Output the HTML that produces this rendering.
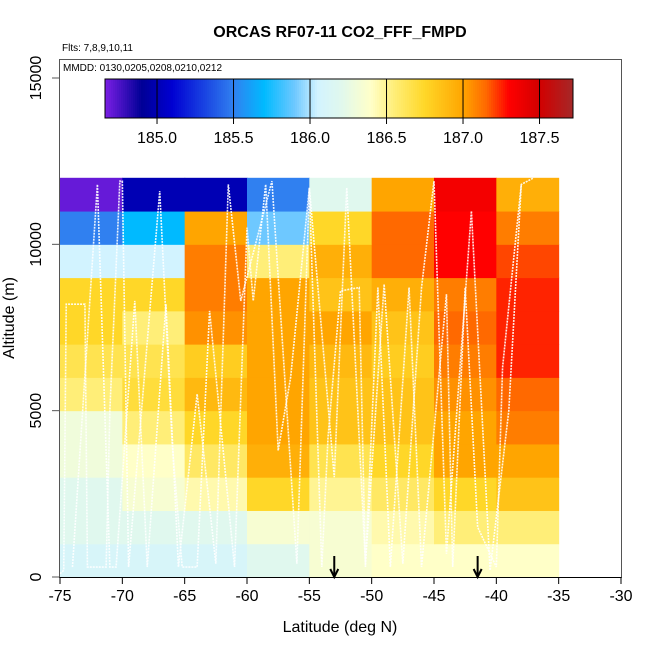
<!DOCTYPE html>
<html><head><meta charset="utf-8"><style>
html,body{margin:0;padding:0;background:#fff}
svg{display:block;font-family:"Liberation Sans",sans-serif}
</style></head><body>
<svg id="c" width="650" height="650" viewBox="0 0 650 650">
<text x="340" y="37" font-size="16" font-weight="bold" text-anchor="middle">ORCAS RF07-11 CO2_FFF_FMPD</text>
<text x="62" y="51" font-size="10">Flts: 7,8,9,10,11</text>
<g id="cells"></g>
<g id="tracks"></g>
<rect x="59.5" y="59.5" width="562" height="518" fill="none" stroke="#555"/>
<text x="63" y="71" font-size="10">MMDD: 0130,0205,0208,0210,0212</text>
<g id="cbar"></g>
<g id="axes"></g>
<text x="340" y="632" font-size="16" text-anchor="middle">Latitude (deg N)</text>
<text transform="translate(14,318) rotate(-90)" font-size="16" text-anchor="middle">Altitude (m)</text>
</svg>
<script>
const latEdges=[-75,-70,-65,-60,-55,-50,-45,-40,-35];
const altEdges=[0,1000,2000,3000,4000,5000,6000,7000,8000,9000,10000,11000,12000];
// rows bottom (0-1000) to top (11000-12000)
const values=[
[186.1,186.1,186.1,186.2,186.35,186.4,186.4,186.4],
[186.2,186.2,186.2,186.35,186.35,186.45,186.55,186.55],
[186.2,186.35,186.45,186.75,186.5,186.6,186.75,186.85],
[186.3,186.4,186.6,186.95,186.65,186.75,187.0,187.0],
[186.3,186.55,186.75,187.0,186.85,186.85,187.0,187.1],
[186.55,186.7,186.9,187.0,186.85,186.85,187.05,187.15],
[186.65,186.65,186.8,187.0,186.9,186.8,187.1,187.25],
[186.75,186.55,187.05,187.0,187.0,186.85,187.15,187.25],
[186.75,186.75,187.1,187.0,186.85,186.95,187.1,187.25],
[186.05,186.05,187.1,186.55,186.95,187.15,187.3,187.2],
[185.5,185.7,187.0,185.9,186.75,187.15,187.3,187.1],
[184.7,185.0,185.0,185.5,186.2,187.0,187.35,186.95]];
const xTicks=[-75,-70,-65,-60,-55,-50,-45,-40,-35,-30];
const yTicks=[0,5000,10000,15000];
const cbTicks=[185.0,185.5,186.0,186.5,187.0,187.5];
const arrowLats=[-53,-41.5];
const trackLat=[-75,-74.7,-74.5,-73,-72.8,-71.3,-71,-70.2,-70,-69.5,-67,-66,-65.2,-64,-63,-61,-60,-59.5,-58.5,-57.5,-56.5,-55,-54,-53.5,-52.5,-51,-50.5,-49.5,-48.5,-47,-46,-44,-43.5,-42.5,-41.5,-40,-39.5,-38,-37];
const trackAlt=[100,200,8200,8200,300,300,5000,11900,11900,300,11600,4000,300,300,8000,300,10500,8300,11800,3800,6000,11700,300,4200,8600,8700,300,8700,300,8700,300,8500,300,8700,1500,300,6300,11800,12000];
const track2Lat=[-74,-72,-71,-70.5,-69,-68,-66.5,-65.5,-64,-62.5,-61.5,-60.5,-58,-56,-55,-53,-52,-50.5,-49,-47.5,-46,-45,-44,-42,-40.5,-39,-38];
const track2Alt=[300,11800,300,300,8300,300,8200,300,5500,400,11800,8300,11900,400,11700,3000,11700,400,8800,400,8700,11900,700,11000,200,5000,11800];
const stops=[[184.65,[128,32,232]],[184.9,[0,0,150]],[185.1,[0,0,210]],[185.5,[48,128,240]],[185.7,[0,186,255]],[185.9,[110,200,255]],[186.05,[210,243,255]],[186.2,[224,248,238]],[186.4,[255,255,200]],[186.55,[255,238,120]],[186.75,[255,215,40]],[187.0,[255,165,0]],[187.15,[255,105,0]],[187.3,[255,0,0]],[187.5,[210,0,0]],[187.72,[165,40,40]]];
function col(v){if(v<=stops[0][0])return 'rgb('+stops[0][1]+')';for(let i=1;i<stops.length;i++){if(v<=stops[i][0]){const a=stops[i-1],b=stops[i],t=(v-a[0])/(b[0]-a[0]);return 'rgb('+a[1].map((c,k)=>Math.round(c+(b[1][k]-c)*t)).join(',')+')';}}return 'rgb('+stops[stops.length-1][1]+')';}
const X=l=>60+(l+75)*561/45, Y=a=>577-a*499/15000, CB=v=>105+(v-184.66)*153;
const NS='http://www.w3.org/2000/svg';
function mk(t,p,at){const e=document.createElementNS(NS,t);for(const k in at)e.setAttribute(k,at[k]);p.appendChild(e);return e;}
const cells=document.getElementById('cells');
values.forEach((row,r)=>row.forEach((v,c)=>{const e=mk('rect',cells,{x:X(latEdges[c]),y:Y(altEdges[r+1]),width:X(latEdges[c+1])-X(latEdges[c])+0.5,height:Y(altEdges[r])-Y(altEdges[r+1])+0.5,fill:col(v)});

}));
const tr=document.getElementById('tracks');
[[trackLat,trackAlt],[track2Lat,track2Alt]].forEach(([la,al])=>{
const pl=mk('polyline',tr,{points:la.map((l,i)=>X(l)+','+Y(al[i])).join(' '),fill:'none',stroke:'#fff','stroke-width':1.6,'stroke-dasharray':'2 1','stroke-opacity':0.9});

});
const cb=document.getElementById('cbar');
for(let x=105;x<573;x+=2){mk('rect',cb,{x:x,y:79,width:2.3,height:39,fill:col(184.66+(x+1-105)/153)});}
mk('rect',cb,{x:105,y:79,width:468,height:39,fill:'none',stroke:'#000'});
cbTicks.forEach(v=>{mk('line',cb,{x1:CB(v),x2:CB(v),y1:79,y2:124,stroke:'#000'});const t=mk('text',cb,{x:CB(v),y:143,'font-size':16,'text-anchor':'middle'});t.textContent=v.toFixed(1);

});
const ax=document.getElementById('axes');
mk('line',ax,{x1:60,x2:621,y1:577.5,y2:577.5,stroke:'#000'});
xTicks.forEach(v=>{mk('line',ax,{x1:X(v),x2:X(v),y1:577,y2:584,stroke:'#000'});const t=mk('text',ax,{x:X(v),y:601,'font-size':16,'text-anchor':'middle'});t.textContent=v;

});
yTicks.forEach(v=>{mk('line',ax,{x1:52,x2:59,y1:Y(v),y2:Y(v),stroke:'#555'});const t=mk('text',ax,{transform:'translate(41,'+Y(v)+') rotate(-90)','font-size':16,'text-anchor':'middle'});t.textContent=v;

});
arrowLats.forEach(l=>{const g=mk('g',ax,{});


mk('line',g,{x1:X(l),x2:X(l),y1:556,y2:576,stroke:'#000','stroke-width':2});mk('polyline',g,{points:(X(l)-4)+',569 '+X(l)+',577 '+(X(l)+4)+',569',fill:'none',stroke:'#000','stroke-width':2});});
</script>
</body></html>
